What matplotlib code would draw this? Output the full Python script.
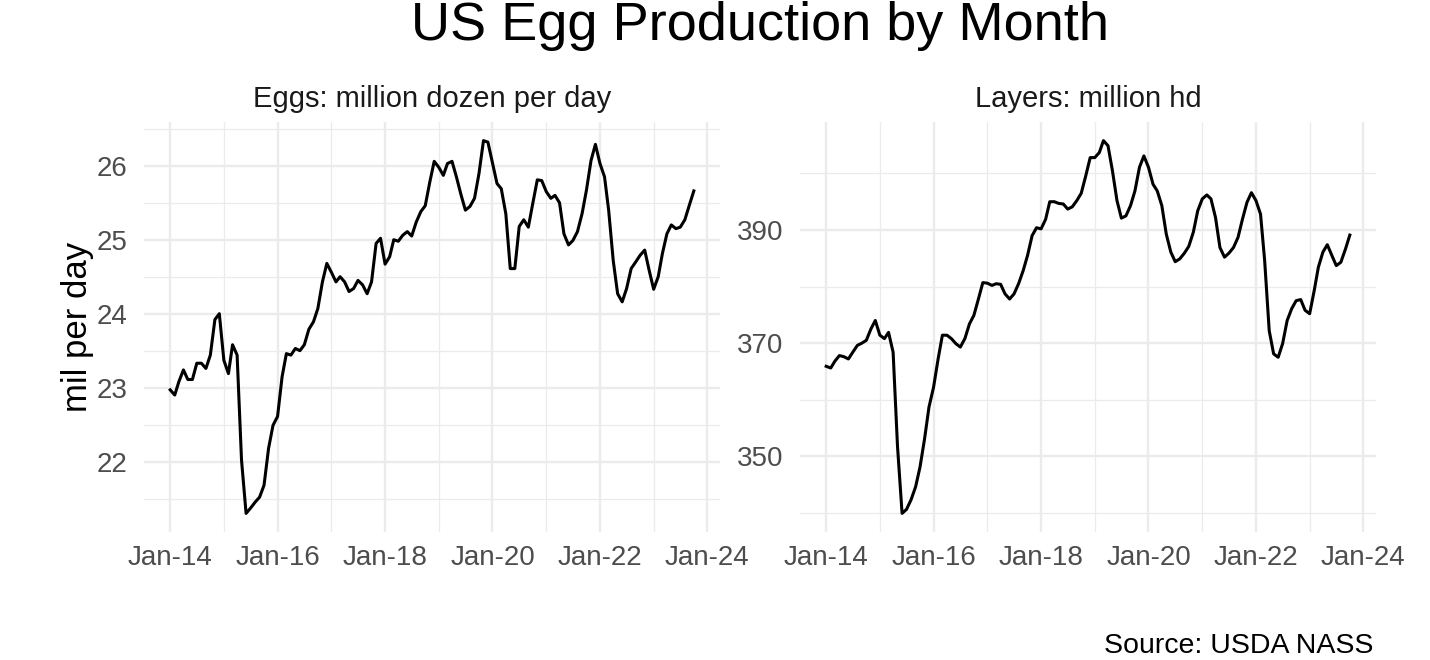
import matplotlib.pyplot as plt
import matplotlib.dates as mdates
import pandas as pd

plt.rcParams["font.family"] = ["Liberation Sans", "DejaVu Sans"]

months = pd.date_range("2014-01-01", periods=118, freq="MS")

eggs = [
    22.97, 22.90, 23.08, 23.24, 23.11, 23.11, 23.33, 23.33, 23.26, 23.44, 23.92, 24.00,
    23.37, 23.19, 23.58, 23.44, 22.02, 21.30, 21.37, 21.45, 21.52, 21.68, 22.18, 22.49,
    22.61, 23.15, 23.46, 23.44, 23.53, 23.50, 23.58, 23.79, 23.89, 24.07, 24.43, 24.68,
    24.56, 24.43, 24.50, 24.43, 24.30, 24.34, 24.45, 24.39, 24.27, 24.43, 24.95, 25.02,
    24.67, 24.77, 25.00, 24.98, 25.06, 25.11, 25.05, 25.24, 25.38, 25.46, 25.78, 26.06,
    25.98, 25.87, 26.03, 26.06, 25.85, 25.61, 25.40, 25.45, 25.56, 25.89, 26.34, 26.32,
    26.04, 25.76, 25.69, 25.35, 24.61, 24.61, 25.18, 25.27, 25.17, 25.49, 25.81, 25.80,
    25.65, 25.56, 25.60, 25.50, 25.08, 24.93, 24.99, 25.11, 25.35, 25.67, 26.07, 26.29,
    26.03, 25.85, 25.40, 24.72, 24.27, 24.16, 24.34, 24.61, 24.70, 24.79, 24.86, 24.59,
    24.33, 24.50, 24.81, 25.08, 25.20, 25.15, 25.17, 25.27, 25.47, 25.66,
]

layers = [
    365.9, 365.6, 366.8, 367.8, 367.6, 367.2, 368.4, 369.6, 370.0, 370.5, 372.5, 374.0,
    371.4, 370.8, 371.9, 368.4, 351.7, 339.9, 340.6, 342.3, 344.6, 348.1, 353.1, 358.7,
    362.2, 367.2, 371.4, 371.4, 370.8, 369.9, 369.3, 370.8, 373.4, 374.9, 377.8, 380.7,
    380.6, 380.2, 380.5, 380.4, 378.7, 377.8, 378.7, 380.5, 382.8, 385.5, 389.0, 390.4,
    390.2, 391.9, 395.0, 395.0, 394.7, 394.6, 393.7, 394.1, 395.2, 396.5, 399.6, 402.8,
    402.8, 403.7, 405.8, 404.9, 400.5, 395.2, 392.1, 392.5, 394.3, 396.9, 401.1, 403.1,
    401.1, 398.1, 396.9, 394.3, 389.3, 386.1, 384.4, 384.9, 385.9, 387.1, 389.6, 393.4,
    395.5, 396.2, 395.5, 392.2, 386.9, 385.2, 385.9, 386.9, 388.7, 391.9, 394.9, 396.6,
    395.2, 392.8, 384.6, 372.2, 368.1, 367.5, 369.9, 374.0, 376.1, 377.5, 377.7, 375.8,
    375.2, 379.3, 383.4, 386.1, 387.4, 385.5, 383.7, 384.3, 386.6, 389.1,
]

panels = [
    ("Eggs: million dozen per day", eggs, [22, 23, 24, 25, 26], [21.5, 22.5, 23.5, 24.5, 25.5, 26.5]),
    ("Layers: million hd", layers, [350, 370, 390], [340, 360, 380, 400]),
]

fig = plt.figure(figsize=(14.3, 6.6), dpi=100)
bottom, top = 1 - 532 / 660, 1 - 122 / 660
lefts = [144 / 1430, 800 / 1430]
width = 576 / 1430

xnum = mdates.date2num(months)
xpad = (xnum[-1] - xnum[0]) * 0.05
odd_years = mdates.date2num(pd.date_range("2015-01-01", "2023-01-01", freq="24MS"))

for left, (strip, vals, major, minor) in zip(lefts, panels):
    ax = fig.add_axes([left, bottom, width, top - bottom])
    ax.plot(months, vals, color="black", linewidth=2.2)

    ypad = (max(vals) - min(vals)) * 0.05
    ax.set_ylim(min(vals) - ypad, max(vals) + ypad)
    ax.set_xlim(xnum[0] - xpad, xnum[-1] + xpad)

    ax.xaxis.set_major_locator(mdates.YearLocator(2))
    ax.set_xticks(odd_years, minor=True)
    ax.xaxis.set_major_formatter(mdates.DateFormatter("%b-%y"))
    ax.set_yticks(major)
    ax.set_yticks(minor, minor=True)
    ax.yaxis.set_major_formatter(plt.FuncFormatter(lambda v, p: f"{v:g}"))

    ax.grid(which="major", color="#EBEBEB", linewidth=1.7)
    ax.grid(which="minor", color="#EBEBEB", linewidth=0.9)
    ax.set_axisbelow(True)
    for s in ax.spines.values():
        s.set_visible(False)
    ax.tick_params(which="both", length=0)
    ax.tick_params(axis="x", labelsize=20, labelcolor="#4D4D4D", pad=9.5)
    ax.tick_params(axis="y", labelsize=20, labelcolor="#4D4D4D", pad=12)
    ax.set_title(strip, fontsize=21, color="#1A1A1A", pad=11)

fig.text(760 / 1430, 1 - 40 / 660, "US Egg Production by Month", fontsize=39,
         ha="center", va="baseline", color="black")
fig.text(77 / 1430, 1 - 327 / 660, "mil per day", fontsize=25, rotation=90,
         ha="center", va="center", color="black")
fig.text(1373 / 1430, 1 - 653 / 660, "Source: USDA NASS", fontsize=20.5,
         ha="right", va="baseline", color="black")

fig.savefig("out.png", dpi=100, facecolor="white")
